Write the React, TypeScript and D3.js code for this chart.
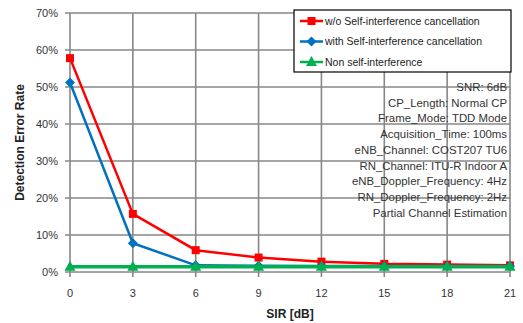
import * as d3 from "d3";

const sir = [0, 3, 6, 9, 12, 15, 18, 21];
const withoutCancel = [57.8, 15.7, 5.9, 3.9, 2.8, 2.2, 2.0, 1.8];
const withCancel = [51.2, 7.8, 1.8, 1.7, 1.6, 1.6, 1.6, 1.6];
const nonSI = [1.4, 1.4, 1.4, 1.4, 1.4, 1.4, 1.4, 1.4];
const yTicks = [0, 10, 20, 30, 40, 50, 60, 70];

const seriesNames = [
  "w/o Self-interference cancellation",
  "with Self-interference cancellation",
  "Non self-interference",
];
const seriesColors = ["#ff0000", "#0070c0", "#00b050"];

const notes = [
  "SNR: 6dB",
  "CP_Length: Normal CP",
  "Frame_Mode: TDD Mode",
  "Acquisition_Time: 100ms",
  "eNB_Channel: COST207 TU6",
  "RN_Channel: ITU-R Indoor A",
  "eNB_Doppler_Frequency: 4Hz",
  "RN_Doppler_Frequency: 2Hz",
  "Partial Channel Estimation",
];

const W = 523;
const H = 323;
const FONT = "Liberation Sans, Arial, sans-serif";

function Marker({ kind, x, y, color }: { kind: number; x: number; y: number; color: string }) {
  if (kind === 0) return <rect x={x - 4} y={y - 4} width={8} height={8} fill={color} />;
  if (kind === 1)
    return <path d={`M${x},${y - 5}L${x + 5},${y}L${x},${y + 5}L${x - 5},${y}Z`} fill={color} />;
  return <path d={`M${x},${y - 6}L${x + 5.5},${y + 4}L${x - 5.5},${y + 4}Z`} fill={color} />;
}

export default function App() {
  const x = d3.scaleLinear().domain([0, 21]).range([70, 510]);
  const y = d3.scaleLinear().domain([0, 70]).range([272, 13]);
  const all = [withoutCancel, withCancel, nonSI];
  const line = d3
    .line<number>()
    .x((_, i) => x(sir[i]))
    .y((d) => y(d));
  const widths = [2.5, 2.5, 3.5];

  return (
    <div style={{ position: "fixed", left: 0, top: 0 }}>
      <svg width={W} height={H} style={{ display: "block", background: "#fff" }} fontFamily={FONT}>
        {/* grid */}
        {yTicks.map((t) => (
          <line key={"h" + t} x1={65} x2={510} y1={y(t)} y2={y(t)} stroke="#878787" strokeWidth={1.6} />
        ))}
        {sir.map((t) => (
          <line key={"v" + t} x1={x(t)} x2={x(t)} y1={y(70)} y2={y(0) + 5} stroke="#878787" strokeWidth={1.6} />
        ))}
        {yTicks.map((t) => (
          <text key={"yl" + t} x={58} y={y(t)} dy="0.35em" textAnchor="end" fontSize={11} fill="#333">
            {t}%
          </text>
        ))}
        {sir.map((t) => (
          <text key={"xl" + t} x={x(t)} y={297} textAnchor="middle" fontSize={11} fill="#333">
            {t}
          </text>
        ))}
        <text x={290} y={318} textAnchor="middle" fontSize={12} fontWeight="bold" fill="#222">
          SIR [dB]
        </text>
        <text
          transform={`translate(20,${y(35)}) rotate(-90)`}
          textAnchor="middle"
          fontSize={12}
          fontWeight="bold"
          fill="#222"
          dy="0.35em"
        >
          Detection Error Rate
        </text>

        {/* notes */}
        {notes.map((n, i) => (
          <text key={n} x={507} y={87 + i * 15.75} dy="0.35em" textAnchor="end" fontSize={11.4} fill="#333">
            {n}
          </text>
        ))}

        {/* series: later ones drawn on top */}
        {[0, 1, 2].map((s) => (
          <g key={"s" + s}>
            <path d={line(all[s]) || ""} fill="none" stroke={seriesColors[s]} strokeWidth={widths[s]} />
            {all[s].map((v, i) => (
              <Marker key={i} kind={s} x={x(sir[i])} y={y(v)} color={seriesColors[s]} />
            ))}
          </g>
        ))}

        {/* legend */}
        <rect x={294} y={10} width={217} height={62} fill="#fff" stroke="#000" strokeWidth={1.2} />
        {seriesNames.map((n, i) => {
          const ly = 21 + i * 20.5;
          return (
            <g key={n}>
              <line x1={300} x2={323} y1={ly} y2={ly} stroke={seriesColors[i]} strokeWidth={2.5} />
              <Marker kind={i} x={311.5} y={ly} color={seriesColors[i]} />
              <text x={325} y={ly} dy="0.35em" fontSize={10.5} fill="#222">
                {n}
              </text>
            </g>
          );
        })}
      </svg>
    </div>
  );
}
